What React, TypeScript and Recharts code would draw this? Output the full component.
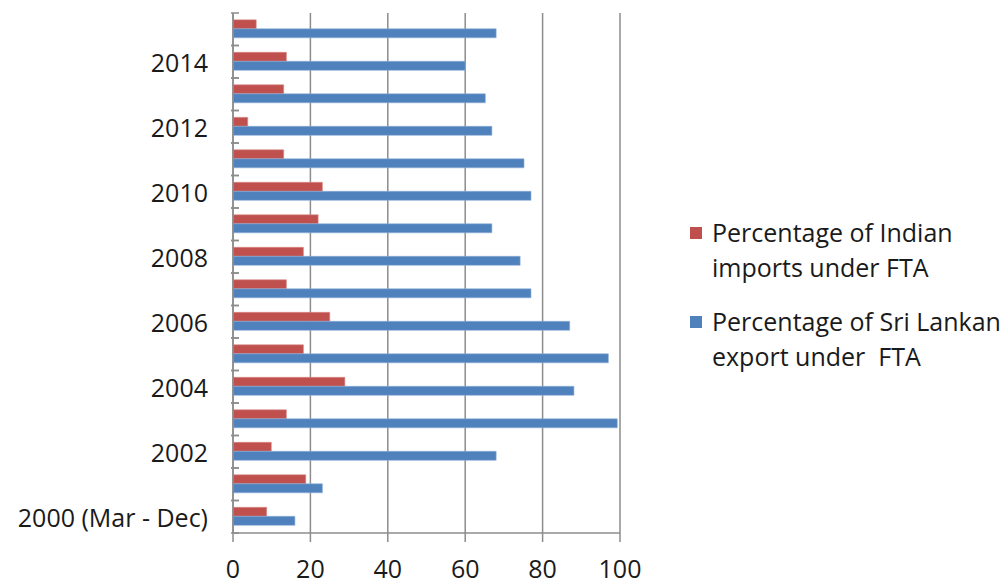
import React from 'react';
import { BarChart, Bar, XAxis, YAxis, CartesianGrid } from 'recharts';

const categories = ['2000 (Mar - Dec)', '2001', '2002', '2003', '2004', '2005', '2006', '2007', '2008', '2009', '2010', '2011', '2012', '2013', '2014', '2015'];
const indianImports = [8.7, 18.8, 9.9, 13.8, 28.9, 18.2, 25.0, 13.8, 18.2, 22.0, 23.1, 13.1, 3.8, 13.1, 13.8, 6.0];
const sriLankanExports = [16.0, 23.1, 68.0, 99.3, 88.1, 97.0, 87.0, 77.0, 74.2, 66.9, 77.0, 75.2, 66.9, 65.2, 60.0, 68.0];
const shownYLabels = ['2000 (Mar - Dec)', '2002', '2004', '2006', '2008', '2010', '2012', '2014'];
const xTicks = [0, 20, 40, 60, 80, 100];
const seriesNames = ['Percentage of Indian imports under FTA', 'Percentage of Sri Lankan export under  FTA'];
const legendLines = [['Percentage of Indian', 'imports under FTA'], ['Percentage of Sri Lankan', 'export under  FTA']];

const data = categories.map((c, i) => ({ cat: c, imp: indianImports[i], exp: sriLankanExports[i] }));

const RED = '#C0504D';
const BLUE = '#4F81BD';
const GRID = '#8c8c8c';
const FONT = '"Open Sans", sans-serif';
const FS = 25;
const W = 1006;
const H = 584;
const M = { top: 13, right: 386, bottom: 11, left: 8 };
const XH = 40;
const YW = 225;
const BAND = (H - M.top - M.bottom - XH) / categories.length;

const YTick = (props: any) => {
  const { x, y, payload } = props;
  const ax = x + 8;
  const show = shownYLabels.includes(payload.value);
  return (
    <g>
      <line x1={ax - 8} x2={ax} y1={y + BAND / 2} y2={y + BAND / 2} stroke={GRID} strokeWidth={1.5} />
      <line x1={ax - 8} x2={ax} y1={y - BAND / 2} y2={y - BAND / 2} stroke={GRID} strokeWidth={1.5} />
      {show && (
        <text x={ax - 31} y={y} textAnchor="end" dominantBaseline="central" fontFamily={FONT} fontSize={FS} fill="#1a1a1a">
          {payload.value}
        </text>
      )}
    </g>
  );
};

const XTick = (props: any) => {
  const { x, y, payload } = props;
  return (
    <text x={x} y={y + 24} textAnchor="middle" dominantBaseline="central" fontFamily={FONT} fontSize={FS} fill="#1a1a1a">
      {payload.value}
    </text>
  );
};

const LegendBox = () => (
  <div style={{ position: 'absolute', left: 690, top: 215, width: 316, fontFamily: FONT, fontSize: FS, color: '#1a1a1a', lineHeight: '35px' }}>
    {legendLines.map((lines, i) => (
      <div key={i} title={seriesNames[i]} style={{ display: 'flex', alignItems: 'flex-start', marginBottom: i === 0 ? 19 : 0 }}>
        <div style={{ width: 12, height: 12, background: i === 0 ? RED : BLUE, marginTop: 12, marginRight: 10, flexShrink: 0 }} />
        <div>
          {lines.map((l, j) => (
            <div key={j} style={{ whiteSpace: 'pre' }}>{l}</div>
          ))}
        </div>
      </div>
    ))}
  </div>
);

export default function App() {
  return (
    <div style={{ position: 'absolute', left: 0, top: 0, width: W, height: H, background: '#fff', overflow: 'hidden' }}>
      <BarChart width={W} height={H} data={data} layout="vertical" margin={M} barCategoryGap="21%" barGap={0}>
        <CartesianGrid horizontal={false} vertical={true} stroke={GRID} strokeWidth={1.5} />
        <XAxis
          type="number"
          domain={[0, 100]}
          ticks={xTicks}
          height={XH}
          axisLine={{ stroke: GRID, strokeWidth: 1.5 }}
          tickLine={{ stroke: GRID, strokeWidth: 1.5 }}
          tickSize={9}
          tick={<XTick />}
          interval={0}
        />
        <YAxis
          type="category"
          dataKey="cat"
          reversed
          width={YW}
          interval={0}
          axisLine={{ stroke: GRID, strokeWidth: 1.5 }}
          tickLine={false}
          tickSize={0}
          tick={<YTick />}
        />
        <Bar dataKey="imp" name={seriesNames[0]} fill={RED} stroke="#d98a88" strokeWidth={0.6} isAnimationActive={false} />
        <Bar dataKey="exp" name={seriesNames[1]} fill={BLUE} stroke="#8fb0d9" strokeWidth={0.6} isAnimationActive={false} />
      </BarChart>
      <LegendBox />
    </div>
  );
}
